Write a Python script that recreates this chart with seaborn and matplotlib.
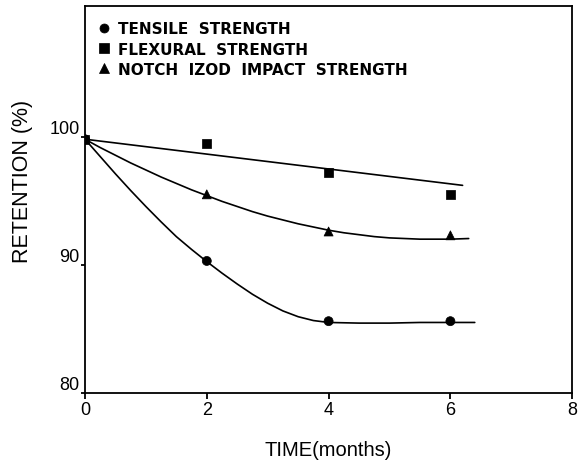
import numpy as np
import pandas as pd
import matplotlib
matplotlib.use("Agg")
import matplotlib.pyplot as plt
import seaborn as sns

# ---- data ----
months = [0, 2, 4, 6]
tensile = [99.8, 90.3, 85.6, 85.6]
flexural = [99.8, 99.5, 97.2, 95.5]
impact = [99.8, 95.5, 92.6, 92.3]

series_names = ["TENSILE  STRENGTH", "FLEXURAL  STRENGTH", "NOTCH  IZOD  IMPACT  STRENGTH"]

# hand-drawn fitted curves
tensile_fit_x = [0, 0.25, 0.5, 0.75, 1, 1.25, 1.5, 1.75, 2, 2.25, 2.5, 2.75, 3, 3.25, 3.5, 3.75,
                 4, 4.5, 5, 5.5, 6, 6.4]
tensile_fit_y = [99.8, 98.45, 97.1, 95.8, 94.55, 93.35, 92.2, 91.2, 90.25, 89.35, 88.5, 87.7,
                 87.0, 86.4, 85.95, 85.65, 85.5, 85.45, 85.45, 85.5, 85.5, 85.5]
flexural_fit_x = [0, 6.2]
flexural_fit_y = [99.8, 96.2]
impact_fit_x = [0, 0.25, 0.5, 0.75, 1, 1.25, 1.5, 1.75, 2, 2.25, 2.5, 2.75, 3, 3.25, 3.5, 3.75,
                4, 4.25, 4.5, 4.75, 5, 5.5, 6, 6.3]
impact_fit_y = [99.8, 99.15, 98.55, 97.95, 97.4, 96.85, 96.35, 95.85, 95.4, 94.95, 94.55, 94.15,
                93.8, 93.5, 93.2, 92.95, 92.7, 92.5, 92.35, 92.2, 92.1, 92.0, 92.0, 92.05]

x_ticks = [0, 2, 4, 6, 8]
y_ticks = [80, 90, 100]

sns.set_theme(style="ticks")
plt.rcParams["font.family"] = ["Liberation Sans", "DejaVu Sans"]
plt.rcParams["text.color"] = "black"
plt.rcParams["axes.labelcolor"] = "black"

fig = plt.figure(figsize=(5.78, 4.64), dpi=100)
ax = fig.add_axes([0.147, 0.151, 0.843, 0.834])

# curves
for fx, fy in [(tensile_fit_x, tensile_fit_y), (flexural_fit_x, flexural_fit_y), (impact_fit_x, impact_fit_y)]:
    sns.lineplot(x=fx, y=fy, ax=ax, color="black", linewidth=1.2, sort=False, legend=False)

# points
df = pd.DataFrame({
    "month": months * 3,
    "value": tensile + flexural + impact,
    "series": [series_names[0]] * 4 + [series_names[1]] * 4 + [series_names[2]] * 4,
})
markers = {series_names[0]: "o", series_names[1]: "s", series_names[2]: "^"}
sns.scatterplot(data=df, x="month", y="value", style="series", markers=markers,
                color="black", edgecolor="black", s=42, ax=ax, zorder=5, legend=True)

ax.set_xlim(0, 8)
ax.set_ylim(80, 110.2)
ax.set_xticks(x_ticks)
ax.set_yticks(y_ticks)
ax.set_xticklabels([str(v) for v in x_ticks], fontsize=13)
ax.set_yticklabels([str(v) for v in y_ticks], fontsize=13)
ax.tick_params(axis="x", direction="out", length=4, width=1.3, pad=2, colors="black")
ax.tick_params(axis="y", direction="out", length=3, width=1.3, pad=1, colors="black")
for lab in ax.get_yticklabels():
    lab.set_verticalalignment("bottom")

for sp in ax.spines.values():
    sp.set_visible(True)
    sp.set_color("black")
    sp.set_linewidth(1.3)

ax.set_xlabel("TIME(months)", fontsize=14.5, color="black")
ax.set_ylabel("RETENTION (%)", fontsize=15.5, color="black")
ax.xaxis.set_label_coords(0.5, -0.122)
ax.yaxis.set_label_coords(-0.106, 0.55)

handles, labels = ax.get_legend_handles_labels()
leg = ax.legend(handles, labels, loc="upper left", bbox_to_anchor=(0.027, 0.960),
                frameon=False, borderpad=0, borderaxespad=0, handlelength=0.8,
                handletextpad=0.5, labelspacing=0.34,
                prop={"family": "DejaVu Sans", "weight": "bold", "size": 11})
for t in leg.get_texts():
    t.set_color("black")
for h in leg.legend_handles:
    try:
        h.set_sizes([22])
    except Exception:
        pass

fig.savefig("out.png", dpi=100, facecolor="white")
